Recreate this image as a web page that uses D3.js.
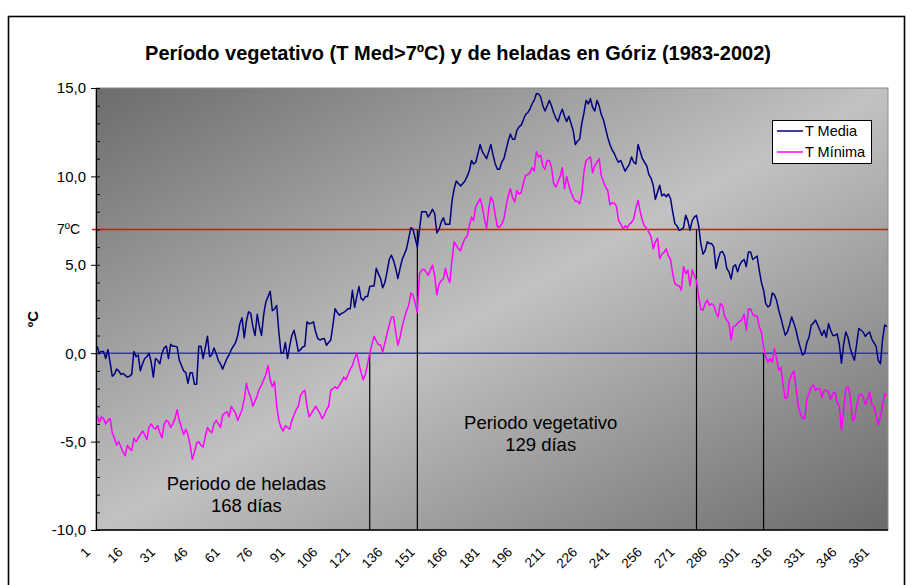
<!DOCTYPE html>
<html><head><meta charset="utf-8">
<script src="https://cdn.jsdelivr.net/npm/d3@7"></script>
<style>
body{margin:0;background:#fff}
svg{display:block}
text{font-family:"Liberation Sans",Arial,Helvetica,sans-serif}
</style>
</head><body>
<svg id="chart" width="912" height="585"></svg>
<script>
// ---------- DATA ----------
const days = d3.range(1, 367);
const tMedia = [
0.4,0.0,0.1,0.1,-0.3,0.2,-0.5,-1.3,-1.2,-0.9,
-1.0,-1.2,-1.15,-1.25,-1.35,-1.3,-1.2,0.1,-0.2,-0.1,
-1.0,-0.6,-0.3,-0.2,0.0,-0.5,-1.35,-0.3,-0.4,-0.6,
0.0,0.3,0.4,-0.3,0.5,0.4,0.4,0.35,-0.4,-0.7,
-1.0,-1.1,-1.7,-1.1,-1.1,-1.75,-1.75,0.4,0.4,-0.3,
0.3,0.96,-0.2,-0.1,0.3,0.0,-0.4,-0.6,-0.9,-0.6,
-0.3,-0.1,0.2,0.4,0.6,1.0,1.68,2.0,0.87,1.8,
2.34,2.25,1.5,1.0,2.2,1.5,1.0,2.2,2.9,3.2,
3.5,2.4,2.5,2.7,1.2,0.0,0.0,0.6,-0.3,0.4,
1.0,1.3,0.75,0.1,0.2,0.35,0.4,1.77,1.67,1.7,
1.77,1.2,0.83,0.75,0.8,0.83,0.45,0.6,0.75,1.6,
2.52,2.3,2.15,2.25,2.3,2.4,2.52,2.52,3.56,2.6,
3.2,3.77,3.1,3.0,3.2,3.2,3.77,3.8,3.8,4.8,
4.5,4.22,3.7,4.0,4.6,5.3,5.54,5.25,4.8,4.22,
4.8,5.3,5.6,5.9,6.5,7.1,7.0,6.5,6.0,7.0,
8.0,8.0,8.0,7.7,7.9,8.14,7.9,6.8,7.0,7.4,
7.66,7.3,7.3,7.3,8.6,9.3,9.74,9.6,9.46,9.6,
9.74,10.0,10.3,10.9,10.7,10.8,11.3,11.8,11.4,11.2,
11.0,11.4,11.8,11.2,10.7,10.4,10.4,10.8,11.0,11.5,
12.0,12.4,12.1,12.1,12.6,12.8,12.9,13.2,13.5,13.6,
13.8,14.1,14.3,14.67,14.67,14.5,14.0,13.7,14.0,14.3,
14.0,13.6,13.3,13.1,13.5,13.8,13.4,13.1,13.4,13.0,
12.6,11.8,12.0,12.1,13.0,13.6,14.3,14.1,14.4,13.9,
13.7,14.3,14.0,13.5,13.2,12.7,12.2,11.8,11.5,11.3,
11.0,10.8,10.9,10.6,10.3,10.5,10.7,11.1,10.8,10.7,
11.8,11.4,11.0,10.8,10.6,10.1,9.9,9.5,8.7,9.1,
9.5,8.9,9.0,8.85,9.0,8.75,8.0,7.33,7.2,6.95,
7.0,7.1,7.8,7.5,6.95,7.5,7.7,7.8,7.2,6.2,
5.6,5.8,6.3,6.2,6.2,6.0,4.79,5.3,5.7,5.75,
5.5,4.79,4.6,4.2,4.9,5.0,4.6,5.0,5.2,5.3,
4.9,5.73,5.73,5.3,5.4,5.5,4.7,4.0,3.57,2.8,
2.62,2.7,3.4,3.3,3.0,2.43,2.0,1.5,1.02,1.2,
1.6,2.05,1.7,1.3,0.75,0.3,-0.1,0.0,0.6,0.9,
1.58,1.7,1.87,1.6,1.3,1.0,1.3,0.9,1.68,1.3,
1.0,1.0,1.1,0.5,-0.57,0.5,1.2,0.9,0.3,-0.1,
-0.4,0.5,1.4,1.3,1.2,0.95,1.1,1.2,0.8,0.6,
0.4,-0.4,-0.6,0.8,1.6,1.5
];
const tMinima = [
-3.5,-3.9,-3.6,-3.7,-4.0,-3.8,-3.7,-4.5,-4.8,-5.2,
-5.0,-5.3,-5.6,-5.8,-5.2,-5.4,-5.5,-4.8,-5.0,-4.8,
-4.6,-4.4,-4.6,-4.9,-4.2,-4.0,-4.2,-4.3,-4.1,-4.5,
-4.8,-4.0,-3.8,-3.9,-4.2,-4.0,-3.7,-3.2,-3.8,-4.2,
-4.6,-4.3,-4.6,-5.2,-6.0,-5.6,-5.1,-5.0,-5.2,-5.3,
-4.7,-4.2,-4.4,-4.5,-4.0,-3.8,-4.0,-4.2,-3.5,-3.4,
-3.3,-3.6,-3.0,-3.2,-3.4,-3.8,-3.5,-3.2,-2.6,-1.7,
-2.2,-2.5,-3.0,-2.7,-2.4,-2.0,-1.8,-1.5,-1.2,-0.7,
-1.5,-1.9,-1.6,-3.0,-3.8,-4.2,-4.4,-4.1,-4.2,-4.3,
-3.8,-3.5,-3.2,-3.0,-2.4,-2.2,-2.1,-3.0,-3.6,-3.4,
-3.2,-3.0,-3.2,-3.4,-3.7,-3.5,-3.2,-3.0,-2.1,-2.0,
-1.9,-2.0,-1.8,-1.6,-1.35,-1.5,-1.2,-0.9,-0.7,-0.3,
0.0,-0.6,-1.1,-1.5,-1.2,-0.6,0.0,0.5,0.96,0.7,
0.5,0.45,0.07,0.6,1.1,1.6,2.05,2.05,1.2,0.45,
0.9,1.5,1.96,2.4,2.7,3.4,3.3,2.8,2.3,4.5,
4.7,4.75,4.6,4.4,4.7,4.97,4.4,3.3,3.9,4.1,
4.2,4.8,4.3,4.0,5.26,6.3,6.1,5.9,5.8,6.2,
6.5,6.6,7.2,7.7,7.5,8.3,8.5,8.75,8.3,7.6,
7.05,8.2,8.84,8.6,7.8,7.14,7.14,7.3,7.6,8.3,
8.9,9.3,8.8,8.56,9.2,9.0,9.1,9.6,10.05,10.1,
10.2,10.5,10.3,11.4,11.1,11.2,10.6,10.4,10.9,10.9,
10.5,9.6,9.4,9.7,10.0,10.5,9.3,10.0,9.5,9.1,
8.8,8.6,8.6,8.45,9.0,10.3,10.9,11.0,11.1,10.2,
10.6,10.8,11.0,10.05,9.7,9.4,9.2,8.4,8.5,8.5,
8.3,7.5,7.3,7.05,7.2,7.1,7.3,7.4,7.6,8.2,
8.65,8.0,7.5,7.2,7.05,6.85,6.6,5.9,6.3,6.5,
5.35,5.6,5.7,5.9,5.5,5.3,4.5,3.94,3.85,3.8,
3.57,4.9,4.5,4.7,3.8,4.7,4.4,4.1,3.2,2.5,
2.43,2.8,3.0,2.7,2.8,2.7,2.3,2.05,2.8,2.7,
2.1,1.87,1.7,0.75,1.5,1.55,1.7,1.8,1.9,2.2,
1.3,2.5,2.5,2.2,2.1,2.1,1.5,1.2,0.36,-0.2,
-0.5,-0.3,-0.5,0.26,-0.3,-0.96,-0.8,-1.8,-2.56,-2.5,
-1.53,-1.2,-1.0,-2.0,-3.0,-3.4,-3.7,-3.7,-2.6,-2.28,
-1.9,-1.8,-2.1,-2.0,-2.0,-2.5,-2.1,-2.1,-2.2,-2.6,
-2.3,-2.2,-2.8,-3.0,-4.35,-3.2,-2.0,-1.9,-2.4,-3.8,
-3.7,-3.0,-2.4,-2.3,-2.5,-2.9,-2.6,-2.2,-2.9,-3.0,
-3.5,-4.07,-3.6,-2.9,-2.3,-2.38
];
const seriesNames = ["T Media", "T Mínima"];
const seriesColors = ["#000080", "#ff00ff"];
const yMajorTicks = [-10, -5, 0, 5, 10, 15];
const yMinorTicks = d3.range(-10, 16, 1);
const xTickDays = d3.range(1, 367, 15);
const thresholdValue = 7;      // 7ºC line
const zeroValue = 0;           // 0ºC line
const frostDays = [127, 309];  // T mínima crosses 0
const vegDays = [149, 278];    // T media crosses 7
const titleText = "Período vegetativo (T Med>7ºC) y de heladas en Góriz (1983-2002)";
const annotations = [
  {lines: ["Periodo de heladas", "168 días"], day: 70, value: -7.75},
  {lines: ["Periodo vegetativo", "129 días"], day: 206, value: -4.3}
];

// ---------- CHART ----------
const svg = d3.select("#chart");
const W = 912, H = 585;
const plot = {left: 96, right: 888, top: 88, bottom: 530};

svg.append("rect").attr("width", W).attr("height", H).attr("fill", "#fff");
svg.append("rect").attr("x", 8.5).attr("y", 16.5).attr("width", 896).attr("height", 600)
  .attr("fill", "#fff").attr("stroke", "#000").attr("stroke-width", 1.6);

const defs = svg.append("defs");
const grad = defs.append("linearGradient").attr("id", "bg")
  .attr("x1", 0).attr("y1", 0).attr("x2", 1).attr("y2", 1);
grad.append("stop").attr("offset", 0).attr("stop-color", "#6c6c6c");
grad.append("stop").attr("offset", 0.5).attr("stop-color", "#c2c2c2");
grad.append("stop").attr("offset", 1).attr("stop-color", "#6a6a6a");

const x = d3.scaleBand().domain(days).range([plot.left, plot.right]).paddingInner(0).paddingOuter(0);
const cx = d => x(d) + x.bandwidth() / 2;
const y = d3.scaleLinear().domain([-10, 15]).range([plot.bottom, plot.top]);

svg.append("rect").attr("x", plot.left).attr("y", plot.top)
  .attr("width", plot.right - plot.left).attr("height", plot.bottom - plot.top)
  .attr("fill", "url(#bg)").attr("stroke", "#8a8a8a").attr("stroke-width", 1);

// title
svg.append("text").attr("x", 458).attr("y", 60).attr("text-anchor", "middle")
  .attr("font-size", 20).attr("font-weight", "bold").text(titleText);

// reference lines
svg.append("line").attr("x1", 92).attr("x2", plot.right)
  .attr("y1", y(thresholdValue)).attr("y2", y(thresholdValue))
  .attr("stroke", "#ff0000").attr("stroke-width", 1.4);
svg.append("line").attr("x1", plot.left).attr("x2", plot.right)
  .attr("y1", y(zeroValue)).attr("y2", y(zeroValue))
  .attr("stroke", "#3535c8").attr("stroke-width", 1.4);

// vertical period lines
svg.selectAll("line.frost").data(frostDays).join("line").attr("class", "frost")
  .attr("x1", d => cx(d)).attr("x2", d => cx(d))
  .attr("y1", y(zeroValue)).attr("y2", plot.bottom)
  .attr("stroke", "#000").attr("stroke-width", 1.2);
svg.selectAll("line.veg").data(vegDays).join("line").attr("class", "veg")
  .attr("x1", d => cx(d)).attr("x2", d => cx(d))
  .attr("y1", y(thresholdValue)).attr("y2", plot.bottom)
  .attr("stroke", "#000").attr("stroke-width", 1.2);

// series
const line = d3.line().x((d, i) => cx(days[i])).y(d => y(d));
[tMinima, tMedia].forEach((s, k) => {
  svg.append("path").datum(s).attr("d", line).attr("fill", "none")
    .attr("stroke", k === 0 ? seriesColors[1] : seriesColors[0])
    .attr("stroke-width", 1.5).attr("stroke-linejoin", "round");
});

// y axis
const fmt = d => d.toFixed(1).replace(".", ",");
const yAxis = svg.append("g").attr("transform", `translate(${plot.left},0)`)
  .call(d3.axisLeft(y).tickValues(yMajorTicks).tickFormat(fmt).tickSizeOuter(0).tickSizeInner(5).tickPadding(5));
yAxis.select(".domain").attr("stroke", "#000").attr("stroke-width", 1.2);
yAxis.selectAll(".tick line").attr("x1", 4).attr("x2", -5).attr("stroke", "#000");
yAxis.selectAll(".tick text").attr("font-size", 15).attr("fill", "#000").attr("font-family", null);
svg.append("g").attr("transform", `translate(${plot.left},0)`)
  .call(d3.axisLeft(y).tickValues(yMinorTicks.filter(v => v % 5 !== 0)).tickFormat("").tickSizeOuter(0).tickSizeInner(-4))
  .call(g => g.select(".domain").remove())
  .selectAll("line").attr("stroke", "#000");
svg.append("text").attr("x", 80).attr("y", y(thresholdValue)).attr("dy", "0.35em")
  .attr("text-anchor", "end").attr("font-size", 14).text("7ºC");
svg.append("text").attr("transform", `translate(38,${(plot.top + plot.bottom) / 2 + 10}) rotate(-90)`)
  .attr("text-anchor", "middle").attr("font-size", 15).attr("font-weight", "bold").text("ºC");

// x axis
svg.append("line").attr("x1", plot.left).attr("x2", plot.right)
  .attr("y1", plot.bottom).attr("y2", plot.bottom).attr("stroke", "#000").attr("stroke-width", 1.5);
svg.selectAll("text.xl").data(xTickDays).join("text").attr("class", "xl")
  .attr("transform", d => `translate(${cx(d) - 6},553) rotate(-45)`)
  .attr("text-anchor", "end").attr("font-size", 13.5).text(d => d);

// annotations
annotations.forEach(a => {
  a.lines.forEach((t, i) => {
    svg.append("text").attr("x", cx(a.day)).attr("y", y(a.value) + i * 22)
      .attr("text-anchor", "middle").attr("font-size", 18.5).text(t);
  });
});

// legend
const lg = svg.append("g").attr("transform", "translate(772,120)");
lg.append("rect").attr("x", 0.5).attr("y", 0.5).attr("width", 99).attr("height", 43)
  .attr("fill", "#fff").attr("stroke", "#000").attr("stroke-width", 1);
seriesNames.forEach((n, i) => {
  const yy = 11 + i * 21;
  lg.append("line").attr("x1", 5).attr("x2", 31).attr("y1", yy).attr("y2", yy)
    .attr("stroke", seriesColors[i]).attr("stroke-width", 1.5);
  lg.append("text").attr("x", 33).attr("y", yy).attr("dy", "0.36em").attr("font-size", 14.5).text(n);
});
</script>
</body></html>
